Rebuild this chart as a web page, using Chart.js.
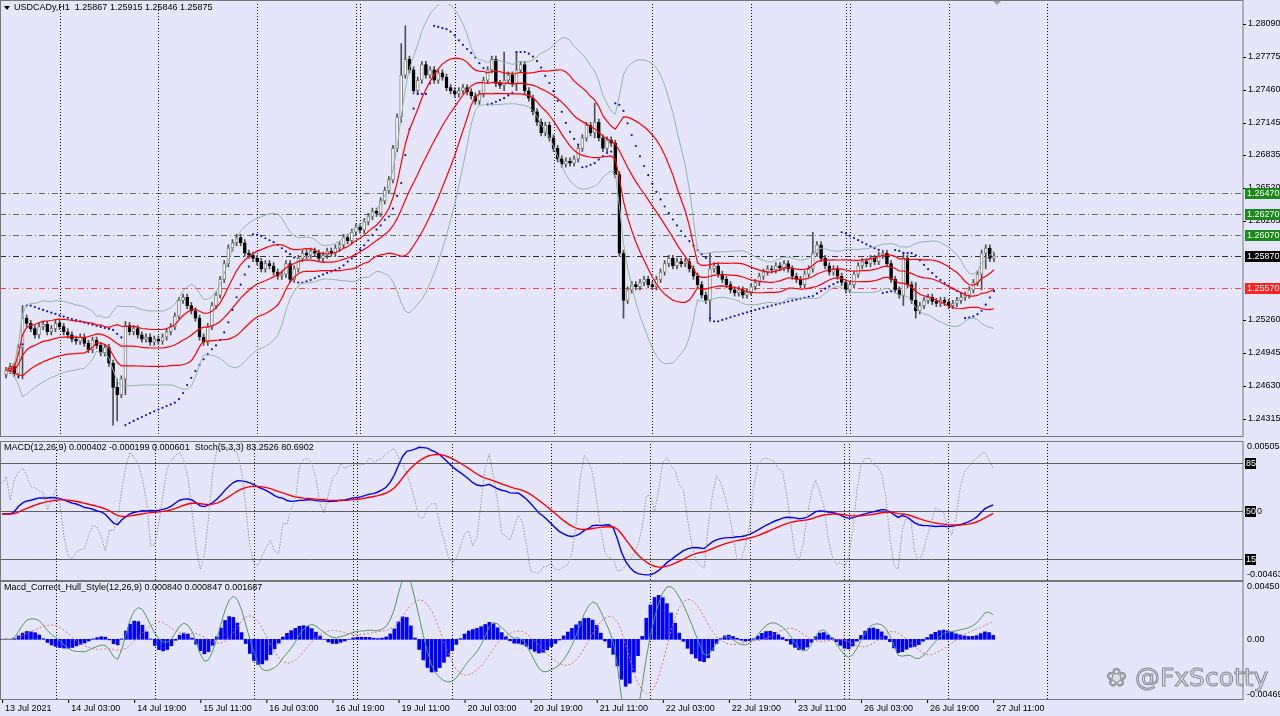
<!DOCTYPE html>
<html><head><meta charset="utf-8">
<script src="https://cdn.jsdelivr.net/npm/chart.js@4/dist/chart.umd.min.js"></script>
<style>
html,body{margin:0;padding:0;background:#e6e6fa;width:1280px;height:716px;overflow:hidden;font-family:"Liberation Sans",sans-serif}
.pn{position:absolute;left:0;width:1280px}
#wm{position:absolute;left:1106px;top:663px;font:25px "DejaVu Sans",sans-serif;color:#dcdce8;-webkit-text-stroke:1px #8a8a96;white-space:nowrap}
</style></head><body>
<div class="pn" style="top:0;height:441px"><canvas id="c1"></canvas></div>
<div class="pn" style="top:441px;height:140px"><canvas id="c2"></canvas></div>
<div class="pn" style="top:581px;height:135px"><canvas id="c3"></canvas></div>
<div id="wm">&#x2740; @FxScotty</div>
<script>
const symbolTitle="USDCADy,H1  1.25867 1.25915 1.25846 1.25875";
const macdTitle="MACD(12,26,9) 0.000402 -0.000199 0.000601  Stoch(5,3,3) 83.2526 80.6902";
const hullTitle="Macd_Correct_Hull_Style(12,26,9) 0.000840 0.000847 0.001687";
const timeLabels=["13 Jul 2021","14 Jul 03:00","14 Jul 19:00","15 Jul 11:00","16 Jul 03:00","16 Jul 19:00","19 Jul 11:00","20 Jul 03:00","20 Jul 19:00","21 Jul 11:00","22 Jul 03:00","22 Jul 19:00","23 Jul 11:00","26 Jul 03:00","26 Jul 19:00","27 Jul 11:00"];
const daySeparators=[13,37,61,85,86,109,133,157,181,204,205,229,253];
const priceTicks=["1.28090","1.27775","1.27460","1.27145","1.26835","1.26520","1.26205","1.25260","1.24945","1.24630","1.24315"];
const levelValues=[1.26470,1.26270,1.26070,1.25870,1.25570];
const levelColors=["#1a8a1a","#1a8a1a","#1a8a1a","#000000","#ff2020"];
const closes=[
1.2478,1.2482,1.2475,1.2500,1.2528,1.2523,
1.2518,1.2512,1.2520,1.2522,1.2515,1.2518,1.2523,1.2520,
1.2515,1.2512,1.2508,1.2506,1.2510,1.2504,1.2498,1.2507,1.2502,1.2495,1.2500,
1.2485,1.2462,1.2455,1.2470,1.2521,1.2515,
1.2518,1.2512,1.2508,1.2510,1.2505,1.2508,1.2506,1.2510,1.2515,1.2520,
1.2530,1.2545,1.2548,1.2540,1.2535,1.2528,1.2510,
1.2505,1.2520,1.2540,1.2550,1.2565,1.2580,1.2595,1.2600,
1.2605,1.2600,1.2590,1.2588,1.2585,1.2582,1.2575,
1.2580,1.2578,1.2572,1.2568,1.2570,1.2580,1.2565,1.2575,
1.2585,1.2590,1.2588,1.2592,1.2590,1.2585,1.2588,1.2592,1.2590,1.2595,
1.2598,1.2605,1.2602,1.2610,1.2615,1.2612,1.2620,1.2625,1.2630,1.2628,1.2640,1.2650,
1.2660,1.2690,1.2720,1.2760,1.2775,
1.2765,1.2745,1.2755,1.2770,1.2760,1.2765,1.2755,1.2762,1.2758,
1.2748,1.2745,1.2742,1.2745,1.2748,1.2744,1.2740,1.2735,1.2742,
1.2755,1.2765,1.2775,1.2752,1.2750,1.2755,1.2760,1.2752,1.2765,1.2770,1.2745,
1.2738,1.2725,1.2715,1.2705,1.2712,1.2700,1.2690,1.2680,1.2675,
1.2678,1.2676,1.2680,1.2690,1.2700,1.2712,1.2705,1.2715,
1.2700,1.2690,1.2698,1.2695,1.2665,1.2590,1.2545,
1.2555,1.2560,1.2558,1.2562,1.2565,1.2560,1.2558,1.2565,
1.2572,1.2580,1.2585,1.2578,1.2582,1.2580,
1.2582,1.2575,1.2568,1.2560,1.2550,1.2545,1.2575,
1.2578,1.2570,1.2565,1.2560,1.2555,1.2552,1.2555,1.2550,1.2553,
1.2558,1.2562,1.2568,1.2572,1.2575,1.2574,1.2578,1.2576,1.2580,1.2575,
1.2568,1.2565,1.2560,1.2570,1.2575,1.2590,1.2598,
1.2585,1.2578,1.2572,1.2575,1.2568,1.2562,1.2555,1.2560,
1.2570,1.2578,1.2582,1.2580,1.2585,1.2582,1.2588,1.2590,1.2580,
1.2565,1.2555,1.2550,1.2585,1.2560,1.2545,1.2535,1.2540,
1.2545,1.2548,1.2544,1.2542,1.2545,1.2543,1.2540,1.2542,1.2545,1.2548,1.2550,
1.2555,1.2562,1.2570,1.2590,1.2595,1.2585,1.25875];
// notable wicks: [index, high, low]
const wickExtremes=[[4,1.2540,1.2470],[26,1.2470,1.2426],[27,1.2470,1.2430],[29,1.2525,1.2455],[97,1.2807,1.2760],[96,1.2790,1.2715],[121,1.2782,1.2745],[124,1.2782,1.2745],[143,1.2733,1.2700],[150,1.2590,1.2528],[171,1.2590,1.2525],[196,1.2610,1.2575],[218,1.2590,1.2540],[221,1.2562,1.2528],[237,1.2592,1.2555],[238,1.2598,1.2575]];
const wickPip=0.0003;

const opens=closes.map((c,i)=>i===0?1.2474:closes[i-1]);
const highs=closes.map((c,i)=>Math.max(c,opens[i])+wickPip);
const lows=closes.map((c,i)=>Math.min(c,opens[i])-wickPip);
wickExtremes.forEach(([i,h,l])=>{highs[i]=Math.max(highs[i],h);lows[i]=Math.min(lows[i],l);});

// indicator helpers (windows shrink at the left edge so lines start at the first bar)
function sma(a,n){return a.map((v,i)=>{if(v==null)return null;let s=0,c=0;for(let k=Math.max(0,i-n+1);k<=i;k++){if(a[k]==null)continue;s+=a[k];c++;}return s/c;});}
function std(a,n){const m=sma(a,n);return a.map((v,i)=>{let s=0,c=0;for(let k=Math.max(0,i-n+1);k<=i;k++){s+=(a[k]-m[i])**2;c++;}return Math.sqrt(s/c);});}
function ema(a,n){const k=2/(n+1);let p=null;return a.map(v=>{if(v==null)return null;p=p==null?v:p+k*(v-p);return p;});}
function wma(a,n){return a.map((v,i)=>{let s=0,w=0;for(let k=0;k<n&&i-k>=0;k++){const x=a[i-k];if(x==null)continue;s+=x*(n-k);w+=n-k;}return w?s/w:null;});}
function hma(a,n){const h=wma(a,Math.round(n/2)),f=wma(a,n);const d=a.map((v,i)=>2*h[i]-f[i]);return wma(d,Math.round(Math.sqrt(n)));}
function sar(hi,lo){const out=[null];let up=true,af=0.02,ep=hi[0],s=lo[0];for(let i=1;i<hi.length;i++){s=s+af*(ep-s);if(up){s=Math.min(s,lo[i-1],i>1?lo[i-2]:lo[i-1]);if(lo[i]<s){up=false;s=ep;ep=lo[i];af=0.02;}else if(hi[i]>ep){ep=hi[i];af=Math.min(af+0.02,0.2);}}else{s=Math.max(s,hi[i-1],i>1?hi[i-2]:hi[i-1]);if(hi[i]>s){up=true;s=ep;ep=hi[i];af=0.02;}else if(lo[i]<ep){ep=lo[i];af=Math.min(af+0.02,0.2);}}out.push(s);}return out;}
function stoch(c,h,l,k,sl){const raw=c.map((v,i)=>{let H=-1e9,L=1e9;for(let j=Math.max(0,i-k+1);j<=i;j++){H=Math.max(H,h[j]);L=Math.min(L,l[j]);}return [v-L,H-L];});return raw.map((r,i)=>{let a=0,b=0;for(let j=Math.max(0,i-sl+1);j<=i;j++){a+=raw[j][0];b+=raw[j][1];}return b?100*a/b:50;});}

const mid=sma(closes,20),sd=std(closes,20);
const pts=(arr)=>arr.map((v,i)=>({x:i,y:v}));
const bb=(m)=>mid.map((v,i)=>v==null?null:v+m*sd[i]);
const sarV=sar(highs,lows);
const e12=ema(closes,12),e26=ema(closes,26);
const macd=closes.map((v,i)=>e12[i]-e26[i]);
const sig=ema(macd,9);
const stK=stoch(closes,highs,lows,5,3);
const h12=hma(closes,12),h26=hma(closes,26);
const hullM=closes.map((v,i)=>h12[i]-h26[i]);
const hullS=sma(hullM,9);
const hullH=hullM.map((v,i)=>(v-hullS[i])*0.6);

const XMIN=-0.5, XMAX=300.5;
const FONT='9px "Liberation Sans", sans-serif';
const xScale={type:'linear',min:XMIN,max:XMAX,display:false,offset:false};
const common={responsive:false,animation:false,maintainAspectRatio:false,events:[],
  layout:{padding:{left:0,right:37,top:0,bottom:0}},plugins:{legend:{display:false},tooltip:{enabled:false}}};
const line=(data,color,w,dash)=>({type:'line',data:pts(data),borderColor:color,borderWidth:w,borderDash:dash||[],pointRadius:0,tension:0,spanGaps:false,order:0});

function frame(ctx,ch,drawSeps){
  const ca=ch.chartArea,xs=ch.scales.x;
  ctx.save();
  ctx.strokeStyle='#000';ctx.lineWidth=1;ctx.setLineDash([1,2]);
  if(drawSeps){daySeparators.forEach(i=>{const x=Math.round(xs.getPixelForValue(i))+0.5;ctx.beginPath();ctx.moveTo(x,ca.top);ctx.lineTo(x,ca.bottom);ctx.stroke();});}
  ctx.setLineDash([]);ctx.strokeStyle='#777';ctx.lineWidth=1;
  ctx.strokeRect(0.5,0.5,ca.right-0.5,ca.bottom-1);
  ctx.restore();
}
const bgPlugin={id:'bg',beforeDraw(ch){const c=ch.ctx;c.save();c.fillStyle='#e6e6fa';c.fillRect(0,0,ch.width,ch.height);c.restore();}};

// ---------- main chart ----------
const wickData=closes.map((c,i)=>({x:i,y:[lows[i],highs[i]]}));
const bodyData=closes.map((c,i)=>({x:i,y:[opens[i],c===opens[i]?c+0.00003:c]}));
const bull=closes.map((c,i)=>c>=opens[i]);
const c1=document.getElementById('c1');c1.width=1280;c1.height=441;
new Chart(c1,{type:'bar',data:{datasets:[
  {data:wickData,backgroundColor:'#505050',barThickness:1,grouped:false,order:3},
  {data:bodyData,backgroundColor:bull.map(b=>b?'#ffffff':'#000000'),borderColor:bull.map(b=>b?'#808080':'#000000'),borderWidth:1,borderSkipped:false,barThickness:3,grouped:false,order:2},
  line(bb(2),'#8fb8a8',1),line(bb(-2),'#8fb8a8',1),
  line(bb(1),'#ff0000',1.2),line(mid,'#ff0000',1.2),line(bb(-1),'#ff0000',1.2),
  {type:'line',data:pts(sarV.map((v,i)=>i<3?null:v)),showLine:false,pointRadius:1.1,pointBackgroundColor:'#1010c0',pointBorderWidth:0,order:0}
]},options:{...common,scales:{x:xScale,y:{min:1.24146,max:1.28278,display:false}}},
plugins:[bgPlugin,{id:'deco',beforeDatasetsDraw(ch){const ctx=ch.ctx,ca=ch.chartArea,y=ch.scales.y;
  ctx.save();ctx.lineWidth=1;
  levelValues.forEach((v,k)=>{const py=Math.round(y.getPixelForValue(v))+0.5;ctx.strokeStyle=k===4?'#ff4040':(k===3?'#303030':'#607060');ctx.setLineDash([6,3,1,3]);ctx.beginPath();ctx.moveTo(0,py);ctx.lineTo(ca.right,py);ctx.stroke();});
  ctx.restore();frame(ctx,ch,true);},
 afterDraw(ch){const ctx=ch.ctx,ca=ch.chartArea,y=ch.scales.y;ctx.save();ctx.font=FONT;ctx.textBaseline='middle';ctx.fillStyle='#000';ctx.strokeStyle='#000';
  priceTicks.forEach(t=>{const py=Math.round(y.getPixelForValue(parseFloat(t)));ctx.beginPath();ctx.moveTo(ca.right,py+0.5);ctx.lineTo(ca.right+3,py+0.5);ctx.stroke();ctx.fillText(t,ca.right+5,py);});
  levelValues.forEach((v,k)=>{const py=Math.round(y.getPixelForValue(v));ctx.fillStyle=levelColors[k];ctx.fillRect(ca.right+2,py-5,36,11);ctx.fillStyle='#fff';ctx.fillText(v.toFixed(5),ca.right+4,py+0.5);});
  ctx.fillStyle='#000';ctx.fillText(symbolTitle,14,8);
  ctx.beginPath();ctx.moveTo(4,6);ctx.lineTo(10,6);ctx.lineTo(7,10);ctx.fill();
  ctx.fillStyle='#a0a0a8';ctx.beginPath();ctx.moveTo(993,1);ctx.lineTo(1001,1);ctx.lineTo(997,5);ctx.fill();
  ctx.restore();}}]});

// ---------- MACD + stoch ----------
const c2=document.getElementById('c2');c2.width=1280;c2.height=140;
new Chart(c2,{type:'line',data:{datasets:[
  {...line(stK,'#8a8a8a',0.9,[1.5,1.5]),yAxisID:'ys'},
  line(sig,'#ff0000',1.4),line(macd,'#0000ff',1.4)
]},options:{...common,scales:{x:xScale,y:{min:-0.004633,max:0.005054,display:false},ys:{min:-1,max:101,display:false}}},
plugins:[bgPlugin,{id:'deco2',beforeDatasetsDraw(ch){const ctx=ch.ctx,ca=ch.chartArea,ys=ch.scales.ys;ctx.save();ctx.strokeStyle='#606060';ctx.lineWidth=1;
  [85,50,15].forEach(v=>{const py=Math.round(ys.getPixelForValue(v))+0.5;ctx.beginPath();ctx.moveTo(0,py);ctx.lineTo(ca.right,py);ctx.stroke();});ctx.restore();frame(ctx,ch,true);},
 afterDraw(ch){const ctx=ch.ctx,ca=ch.chartArea,ys=ch.scales.ys;ctx.save();ctx.font=FONT;ctx.textBaseline='middle';
  ctx.fillStyle='#000';ctx.fillText(macdTitle,4,7);
  ctx.fillText('0.005054',ca.right+4,6);ctx.fillText('-0.004633',ca.right+4,134);
  [85,50,15].forEach(v=>{const py=Math.round(ys.getPixelForValue(v));ctx.fillStyle='#000';ctx.fillRect(ca.right+2,py-5,11,11);ctx.fillStyle='#fff';ctx.fillText(String(v),ca.right+3,py+0.5);});
  ctx.fillStyle='#000';ctx.fillText('0',ca.right+14,ys.getPixelForValue(50)+1);
  ctx.restore();}}]});

// ---------- Hull MACD ----------
const c3=document.getElementById('c3');c3.width=1280;c3.height=135;
new Chart(c3,{type:'bar',data:{datasets:[
  {data:pts(hullH),backgroundColor:'#0000ff',barThickness:3,grouped:false,order:2},
  line(hullS,'#e07070',1,[2,2]),line(hullM,'#4f9a5f',1)
]},options:{...common,layout:{padding:{left:0,right:37,top:0,bottom:16}},scales:{x:xScale,y:{min:-0.0052,max:0.0050,display:false}}},
plugins:[bgPlugin,{id:'deco3',beforeDatasetsDraw(ch){frame(ch.ctx,ch,true);},
 afterDraw(ch){const ctx=ch.ctx,ca=ch.chartArea,y=ch.scales.y;ctx.save();ctx.font=FONT;ctx.textBaseline='middle';ctx.fillStyle='#000';
  ctx.fillText(hullTitle,4,7);
  ctx.fillText('0.004508',ca.right+4,y.getPixelForValue(0.004508));ctx.fillText('0.00',ca.right+4,y.getPixelForValue(0));ctx.fillText('-0.00469',ca.right+4,y.getPixelForValue(-0.00469));
  ctx.textBaseline='top';ctx.strokeStyle='#000';
  timeLabels.forEach((t,k)=>{const x=ch.scales.x.getPixelForValue(k*16);ctx.beginPath();ctx.moveTo(x+0.5,ca.bottom);ctx.lineTo(x+0.5,ca.bottom+3);ctx.stroke();ctx.fillText(t,x+3,ca.bottom+4);});
  ctx.restore();}}]});
</script></body></html>
